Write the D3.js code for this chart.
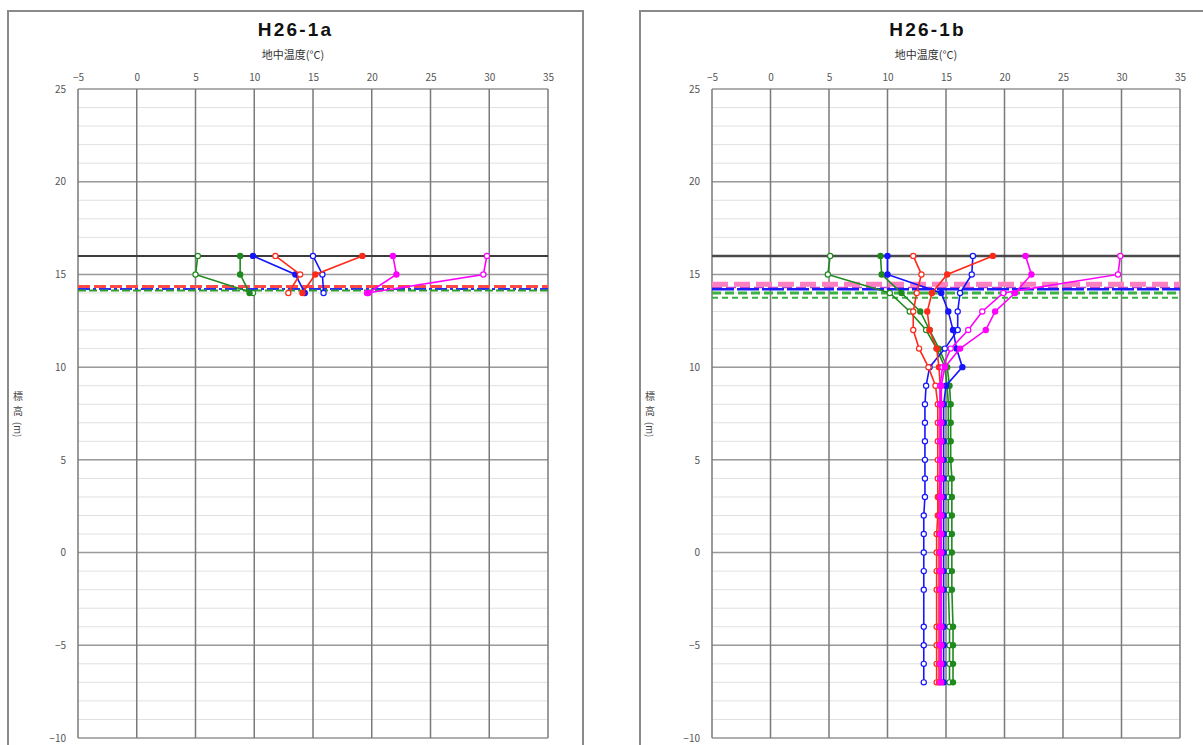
<!DOCTYPE html>
<html><head><meta charset="utf-8">
<script src="https://cdn.jsdelivr.net/npm/d3@7"></script>
<style>html,body{margin:0;padding:0;background:#fff;} svg{display:block;}</style>
</head><body>
<svg id="chart" width="1203" height="745"></svg>
<script>
// ---------- DATA ----------
const tempTicks = [-5, 0, 5, 10, 15, 20, 25, 30, 35];
const elevTicks = [25, 20, 15, 10, 5, 0, -5, -10];
const panelTitles = ["H26-1a", "H26-1b"];
const xAxisTitle = "地中温度(°C)";
const yAxisTitleMain = "標高";
const yAxisTitleUnit = "(m)";

// H26-1a
const elevA = [16, 15, 14];
const aGreenOpen     = [5.2, 5.0, 9.9];
const aGreenFilled   = [8.8, 8.8, 9.6];
const aBlueOpen      = [15.0, 15.8, 15.9];
const aBlueFilled    = [9.9, 13.5, 14.3];
const aRedOpen       = [11.8, 13.9, 12.9];
const aRedFilled     = [19.2, 15.2, 14.1];
const aMagentaOpen   = [29.8, 29.5, 19.6];
const aMagentaFilled = [21.8, 22.1, 19.7];
const aLevels = [16.0, 14.35, 14.22, 14.13];

// H26-1b
const elevB = [16, 15, 14, 13, 12, 11, 10, 9, 8, 7, 6, 5, 4, 3, 2, 1, 0, -1, -2, -4, -5, -6, -7];
const bGreenOpen     = [5.1, 4.9, 10.2, 11.9, 13.3, 14.2, 14.9, 15.1, 15.2, 15.2, 15.2, 15.2, 15.2, 15.2, 15.2, 15.2, 15.2, 15.2, 15.2, 15.3, 15.3, 15.3, 15.3];
const bGreenFilled   = [9.4, 9.5, 11.2, 12.8, 13.6, 14.4, 15.1, 15.3, 15.4, 15.4, 15.4, 15.4, 15.5, 15.5, 15.5, 15.5, 15.5, 15.5, 15.5, 15.6, 15.6, 15.6, 15.6];
const bBlueOpen      = [17.3, 17.2, 16.2, 16.0, 16.0, 14.9, 13.6, 13.3, 13.2, 13.2, 13.2, 13.2, 13.2, 13.2, 13.1, 13.1, 13.1, 13.1, 13.1, 13.1, 13.1, 13.1, 13.1];
const bBlueFilled    = [10.0, 10.0, 14.6, 15.2, 15.6, 15.9, 16.4, 15.0, 14.8, 14.8, 14.8, 14.8, 14.8, 14.8, 14.8, 14.8, 14.8, 14.8, 14.8, 14.8, 14.8, 14.8, 14.8];
const bRedOpen       = [12.2, 12.9, 12.5, 12.2, 12.2, 12.7, 13.5, 14.1, 14.3, 14.3, 14.3, 14.3, 14.3, 14.3, 14.3, 14.2, 14.2, 14.2, 14.2, 14.2, 14.2, 14.2, 14.2];
const bRedFilled     = [19.0, 15.1, 13.8, 13.4, 13.6, 14.2, 14.4, 14.5, 14.5, 14.5, 14.5, 14.5, 14.5, 14.4, 14.4, 14.4, 14.4, 14.4, 14.4, 14.4, 14.4, 14.4, 14.4];
const bMagentaOpen   = [29.9, 29.7, 19.9, 18.1, 16.9, 15.4, 14.7, 14.5, 14.5, 14.5, 14.5, 14.5, 14.5, 14.5, 14.5, 14.5, 14.5, 14.5, 14.5, 14.5, 14.5, 14.5, 14.5];
const bMagentaFilled = [21.8, 22.3, 20.9, 19.2, 18.4, 16.2, 14.9, 14.6, 14.6, 14.6, 14.6, 14.6, 14.6, 14.6, 14.6, 14.6, 14.6, 14.6, 14.6, 14.6, 14.6, 14.6, 14.6];
const bLevels = [16.0, 14.47, 14.3, 14.2, 14.0, 13.74];

// ---------- STYLES ----------
const C = {green: "#1f8a1f", blue: "#1515ff", red: "#ff2a1a", magenta: "#ff00ff"};
const levelStylesA = [
  {color: "#3c3c3c", width: 2, dash: null},
  {color: "#ff4a4a", width: 3, dash: "12,4"},
  {color: "#2a2aff", width: 2, dash: "12,3,3,3"},
  {color: "#2e9e2e", width: 2, dash: "8,3"}
];
const levelStylesB = [
  {color: "#4a4a4a", width: 2.5, dash: null},
  {color: "#ff80c0", width: 5, dash: "16,6"},
  {color: "#c040d0", width: 1.5, dash: "10,4"},
  {color: "#1a1aff", width: 2.5, dash: "22,3"},
  {color: "#3cb043", width: 3, dash: "9,4"},
  {color: "#3cb043", width: 2, dash: "6,4"}
];

const panels = [
  {
    title: panelTitles[0], frameX: 8, plotX0: 78, plotX1: 548, ylabX: 18,
    elev: elevA,
    series: [
      {v: aGreenOpen, c: C.green, f: false}, {v: aGreenFilled, c: C.green, f: true},
      {v: aBlueOpen, c: C.blue, f: false}, {v: aBlueFilled, c: C.blue, f: true},
      {v: aRedOpen, c: C.red, f: false}, {v: aRedFilled, c: C.red, f: true},
      {v: aMagentaOpen, c: C.magenta, f: false}, {v: aMagentaFilled, c: C.magenta, f: true}
    ],
    levels: aLevels, levelStyles: levelStylesA
  },
  {
    title: panelTitles[1], frameX: 640, plotX0: 712, plotX1: 1180, ylabX: 650,
    elev: elevB,
    series: [
      {v: bGreenOpen, c: C.green, f: false}, {v: bGreenFilled, c: C.green, f: true},
      {v: bBlueOpen, c: C.blue, f: false}, {v: bBlueFilled, c: C.blue, f: true},
      {v: bRedOpen, c: C.red, f: false}, {v: bRedFilled, c: C.red, f: true},
      {v: bMagentaOpen, c: C.magenta, f: false}, {v: bMagentaFilled, c: C.magenta, f: true}
    ],
    levels: bLevels, levelStyles: levelStylesB
  }
];

const svg = d3.select("#chart");
const FONT = "'Noto Sans CJK JP', 'Noto Sans', sans-serif";
const plotY0 = 89, plotY1 = 738, frameW = 575;

panels.forEach(p => {
  const g = svg.append("g");
  const x = d3.scaleLinear().domain([-5, 35]).range([p.plotX0, p.plotX1]);
  const y = d3.scaleLinear().domain([-10, 25]).range([plotY1, plotY0]);

  // frame
  g.append("rect").attr("x", p.frameX).attr("y", 11).attr("width", frameW).attr("height", 800)
    .attr("fill", "#fff").attr("stroke", "#8a8a8a").attr("stroke-width", 2);

  // title
  g.append("text").attr("x", p.frameX + frameW / 2).attr("y", 36)
    .attr("text-anchor", "middle").attr("font-family", "'Liberation Sans', Arial, sans-serif")
    .attr("font-weight", "bold").attr("font-size", 19).attr("letter-spacing", 2.2)
    .attr("fill", "#111").text(p.title);

  // x axis title
  g.append("text").attr("x", (p.plotX0 + p.plotX1) / 2 - 20).attr("y", 59)
    .attr("text-anchor", "middle").attr("font-family", FONT).attr("font-size", 11)
    .attr("fill", "#333").text(xAxisTitle);

  // minor horizontal gridlines
  g.append("g").selectAll("line").data(y.ticks(35)).join("line")
    .attr("x1", p.plotX0).attr("x2", p.plotX1)
    .attr("y1", d => y(d)).attr("y2", d => y(d))
    .attr("stroke", "#e0e0e0").attr("stroke-width", 1);

  // major horizontal gridlines
  g.append("g").selectAll("line").data(elevTicks).join("line")
    .attr("x1", p.plotX0).attr("x2", p.plotX1)
    .attr("y1", d => y(d)).attr("y2", d => y(d))
    .attr("stroke", "#9a9a9a").attr("stroke-width", 1.5);

  // vertical gridlines
  g.append("g").selectAll("line").data(tempTicks).join("line")
    .attr("x1", d => x(d)).attr("x2", d => x(d))
    .attr("y1", plotY0).attr("y2", plotY1)
    .attr("stroke", "#7a7a7a").attr("stroke-width", 1.5);

  // axes labels
  const xa = g.append("g").attr("transform", `translate(0,${plotY0 - 8})`)
    .call(d3.axisTop(x).tickValues(tempTicks).tickSize(0).tickPadding(0));
  xa.select(".domain").remove();
  xa.selectAll("text").attr("font-family", FONT).attr("font-size", 10).attr("fill", "#555");

  const ya = g.append("g").attr("transform", `translate(${p.plotX0 - 12},0)`)
    .call(d3.axisLeft(y).tickValues(elevTicks).tickSize(0).tickPadding(0));
  ya.select(".domain").remove();
  ya.selectAll("text").attr("font-family", FONT).attr("font-size", 10).attr("fill", "#555");

  // y axis title: upright CJK characters stacked, unit rotated below
  Array.from(yAxisTitleMain).forEach((ch, i) => {
    g.append("text").attr("x", p.ylabX).attr("y", 400 + i * 14.5)
      .attr("text-anchor", "middle").attr("font-family", FONT)
      .attr("font-size", 10).attr("fill", "#444").text(ch);
  });
  g.append("text").attr("transform", `translate(${p.ylabX - 4},${422}) rotate(90)`)
    .attr("font-family", FONT).attr("font-size", 9.5).attr("fill", "#444").text(yAxisTitleUnit);

  // reference level lines
  g.append("g").selectAll("line").data(p.levels).join("line")
    .attr("x1", p.plotX0).attr("x2", p.plotX1)
    .attr("y1", d => y(d)).attr("y2", d => y(d))
    .attr("stroke", (d, i) => p.levelStyles[i].color)
    .attr("stroke-width", (d, i) => p.levelStyles[i].width)
    .attr("stroke-dasharray", (d, i) => p.levelStyles[i].dash);

  // series
  const line = d3.line().x(d => x(d[0])).y(d => y(d[1]));
  p.series.forEach(s => {
    const pts = s.v.map((t, i) => [t, p.elev[i]]);
    g.append("path").datum(pts).attr("d", line)
      .attr("fill", "none").attr("stroke", s.c).attr("stroke-width", 1.6);
    g.append("g").selectAll("circle").data(pts).join("circle")
      .attr("cx", d => x(d[0])).attr("cy", d => y(d[1])).attr("r", 2.6)
      .attr("fill", s.f ? s.c : "#fff").attr("stroke", s.c).attr("stroke-width", 1.2);
  });
});
</script>
</body></html>
